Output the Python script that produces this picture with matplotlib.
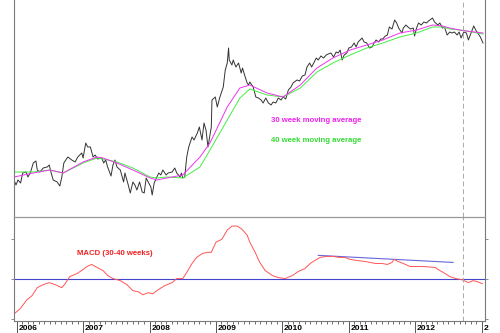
import matplotlib
matplotlib.use("Agg")
import matplotlib.pyplot as plt

plt.rcParams["font.family"] = ["Liberation Sans", "DejaVu Sans"]

# weekly close, decimal year vs price level
price_t = [2005.96, 2005.99, 2006.02, 2006.06, 2006.09, 2006.14, 2006.17, 2006.21, 2006.25, 2006.29,
           2006.31, 2006.35, 2006.40, 2006.46, 2006.49, 2006.52, 2006.55, 2006.61, 2006.65, 2006.68,
           2006.71, 2006.77, 2006.83, 2006.88, 2006.92, 2006.98, 2007.00, 2007.04, 2007.07, 2007.11,
           2007.15, 2007.18, 2007.22, 2007.28, 2007.31, 2007.34, 2007.37, 2007.42, 2007.45, 2007.48,
           2007.51, 2007.56, 2007.59, 2007.61, 2007.63, 2007.68, 2007.71, 2007.75, 2007.78, 2007.81,
           2007.85, 2007.89, 2007.92, 2007.95, 2007.98, 2008.02, 2008.04, 2008.07, 2008.11, 2008.14,
           2008.17, 2008.20, 2008.25, 2008.28, 2008.34, 2008.38, 2008.41, 2008.46, 2008.48, 2008.50,
           2008.53, 2008.56, 2008.59, 2008.64, 2008.67, 2008.72, 2008.75, 2008.79, 2008.82, 2008.85,
           2008.88, 2008.93, 2008.94, 2008.99, 2009.02, 2009.06, 2009.11, 2009.14, 2009.17, 2009.19,
           2009.20, 2009.24, 2009.26, 2009.30, 2009.34, 2009.38, 2009.40, 2009.44, 2009.47, 2009.49,
           2009.51, 2009.56, 2009.60, 2009.64, 2009.68, 2009.71, 2009.75, 2009.79, 2009.83, 2009.86,
           2009.90, 2009.94, 2009.98, 2010.01, 2010.05, 2010.09, 2010.13, 2010.16, 2010.22, 2010.26,
           2010.30, 2010.34, 2010.37, 2010.41, 2010.44, 2010.48, 2010.51, 2010.54, 2010.58, 2010.62,
           2010.66, 2010.69, 2010.73, 2010.77, 2010.81, 2010.84, 2010.87, 2010.90, 2010.93, 2010.97,
           2011.00, 2011.04, 2011.08, 2011.11, 2011.14, 2011.20, 2011.23, 2011.27, 2011.31, 2011.35,
           2011.38, 2011.41, 2011.45, 2011.48, 2011.51, 2011.55, 2011.58, 2011.61, 2011.65, 2011.69,
           2011.72, 2011.75, 2011.80, 2011.82, 2011.86, 2011.89, 2011.93, 2011.97, 2011.99, 2012.02,
           2012.05, 2012.09, 2012.13, 2012.17, 2012.20, 2012.26, 2012.29, 2012.34, 2012.37, 2012.41,
           2012.44, 2012.48, 2012.52, 2012.55, 2012.59, 2012.63, 2012.66, 2012.69, 2012.73, 2012.77,
           2012.80, 2012.84, 2012.88, 2012.91, 2012.94, 2012.98, 2013.02]
price = [70, 65, 70, 67, 77, 78, 73, 78, 87, 89,
         80, 78, 82, 83, 85, 77, 70, 68, 64, 73,
         87, 93, 90, 88, 93, 97, 92, 107, 103, 103,
         93, 95, 91, 92, 87, 90, 83, 74, 85, 90,
         83, 80, 73, 68, 77, 65, 57, 68, 65, 60,
         68, 58, 57, 72, 68, 63, 55, 67, 73, 77,
         75, 80, 75, 77, 78, 82, 77, 73, 77, 72,
         73, 93, 103, 113, 110, 117, 123, 110, 127, 120,
         103, 123, 150, 153, 143, 153, 163, 180, 187, 202,
         190, 185, 190, 183, 187, 177, 182, 173, 167, 165,
         168, 163, 153, 152, 150, 147, 152, 147, 145, 148,
         147, 152, 150, 153, 151, 160, 163, 167, 170, 169,
         174, 175, 183, 187, 183, 188, 192, 190, 194, 192,
         195, 196, 197, 193, 198, 197, 200, 190, 195, 197,
         202, 203, 207, 203, 208, 212, 208, 207, 202, 203,
         207, 210, 208, 211, 211, 214, 215, 223, 221, 230,
         227, 222, 217, 222, 225, 223, 221, 222, 214, 222,
         227, 225, 228, 227, 229, 232, 228, 225, 227, 222,
         223, 215, 218, 217, 218, 215, 218, 212, 218, 217,
         210, 217, 224, 220, 217, 213, 207]

ma_t = [2005.96, 2006.25, 2006.50, 2006.70, 2007.00, 2007.21, 2007.30, 2007.51, 2007.75, 2008.01,
        2008.11, 2008.26, 2008.50, 2008.76, 2008.91, 2009.17, 2009.36, 2009.51, 2009.77, 2010.01,
        2010.27, 2010.52, 2010.76, 2011.02, 2011.27, 2011.51, 2011.77, 2012.02, 2012.26, 2012.41,
        2012.52, 2012.67, 2012.77, 2013.02]
ma30 = [73, 77, 80, 77, 88, 93, 92, 87, 80, 72,
        70, 72, 75, 93, 107, 143, 162, 165, 157, 153,
        165, 182, 192, 200, 205, 210, 217, 220, 225, 224,
        222, 220, 219, 217]
ma40 = [78, 78, 80, 77, 87, 92, 91, 88, 82, 73,
        72, 73, 72, 83, 100, 130, 152, 161, 155, 153,
        162, 178, 187, 195, 202, 207, 213, 217, 223, 223,
        221, 220, 219, 216]

macd_t = [2005.96, 2006.05, 2006.155, 2006.23, 2006.31, 2006.40, 2006.49, 2006.58, 2006.68, 2006.73,
          2006.80, 2006.91, 2007.00, 2007.06, 2007.13, 2007.21, 2007.30, 2007.37, 2007.45, 2007.56,
          2007.66, 2007.75, 2007.83, 2007.90, 2007.98, 2008.05, 2008.13, 2008.23, 2008.34, 2008.41,
          2008.50, 2008.56, 2008.64, 2008.71, 2008.80, 2008.88, 2008.93, 2009.00, 2009.09, 2009.17,
          2009.24, 2009.32, 2009.39, 2009.47, 2009.51, 2009.59, 2009.66, 2009.74, 2009.85, 2009.94,
          2010.04, 2010.15, 2010.24, 2010.34, 2010.42, 2010.49, 2010.57, 2010.67, 2010.76, 2010.85,
          2010.94, 2011.02, 2011.12, 2011.24, 2011.32, 2011.40, 2011.50, 2011.58, 2011.65, 2011.68,
          2011.74, 2011.82, 2011.92, 2012.02, 2012.12, 2012.30, 2012.37, 2012.45, 2012.52, 2012.61,
          2012.70, 2012.80, 2012.87, 2012.93, 2013.01]
macd = [-34.7, -29.7, -20.7, -16.7, -8.7, -5.7, -3.7, -5.7, -8.7, -4.7,
        2.3, 5.3, 9.3, 12.3, 14.3, 11.3, 8.3, 3.3, 0.3, -1.7,
        -5.7, -11.7, -12.7, -15.7, -13.7, -14.7, -10.7, -6.7, -3.7, 0.3,
        0.3, 6.3, 15.3, 21.3, 25.3, 26.3, 26.3, 36.3, 39.3, 48.3,
        52.3, 52.3, 49.3, 43.3, 36.3, 26.3, 16.3, 8.3, 3.3, 1.3,
        0.3, 3.3, 7.3, 10.3, 15.3, 18.3, 21.3, 22.3, 22.3, 21.3,
        21.3, 19.3, 18.3, 17.3, 16.3, 15.3, 15.3, 14.3, 16.3, 19.3,
        17.3, 15.3, 12.3, 12.3, 12.3, 11.3, 8.3, 5.3, 2.3, 0.3,
        -0.7, -3.7, -1.7, -2.7, -4.7]

# trend line drawn across the MACD highs
trend_t = [2010.54, 2012.57]
trend_v = [23.3, 16.3]

years = [2006, 2007, 2008, 2009, 2010, 2011, 2012, 2013]
# the 2013 label only has room for its first digit before the edge
year_labels = ["2006", "2007", "2008", "2009", "2010", "2011", "2012", "2"]
marker_t = 2012.715

XMIN, XMAX = 2005.96, 2013.05
SPINE = "#7a7a7a"

fig = plt.figure(figsize=(5.0, 3.33), dpi=100)
ax1 = fig.add_axes([0.028, 1 - 217 / 333, 0.942, 217 / 333])
ax2 = fig.add_axes([0.028, 1 - 321 / 333, 0.942, 104 / 333])

# price panel
ax1.plot(price_t, price, color="#333333", lw=0.7)
ax1.plot(ma_t, ma40, color="#44ee44", lw=0.7)
ax1.plot(ma_t, ma30, color="#ee33ee", lw=0.7)
ax1.axvline(marker_t, color="#aaaaaa", lw=0.7, dashes=(5, 3))
ax1.set_xlim(XMIN, XMAX)
ax1.set_ylim(33, 250)
ax1.text(2009.83, 129, "30 week moving average", color="#ee22ee", fontsize=5.6,
         fontweight="bold", va="center", ha="left")
ax1.text(2009.83, 109, "40 week moving average", color="#33dd33", fontsize=5.6,
         fontweight="bold", va="center", ha="left")
ax1.set_xticks([])
ax1.set_yticks([])
ax1.spines["top"].set_visible(False)
ax1.spines["bottom"].set_visible(False)
for s in ("left", "right"):
    ax1.spines[s].set_color(SPINE)
    ax1.spines[s].set_linewidth(0.8)

# MACD panel
ax2.axhline(0, color="#4444cc", lw=0.8)
ax2.plot(trend_t, trend_v, color="#6666dd", lw=0.8)
ax2.plot(macd_t, macd, color="#ff5555", lw=0.7)
ax2.axvline(marker_t, color="#aaaaaa", lw=0.7, dashes=(5, 3))
ax2.set_xlim(XMIN, XMAX)
ax2.set_ylim(-41.7, 61.3)
ax2.text(2006.91, 25.3, "MACD (30-40 weeks)", color="#ee2222", fontsize=5.6,
         fontweight="bold", va="center", ha="left")
ax2.spines["top"].set_color("#999999")
ax2.spines["top"].set_linewidth(0.9)
for s in ("left", "right", "bottom"):
    ax2.spines[s].set_color(SPINE)
    ax2.spines[s].set_linewidth(0.8)
ax2.set_yticks([-40, 0, 40])
ax2.tick_params(axis="y", left=True, right=True, labelleft=False, length=2,
                color=SPINE, width=0.6)

months = [y + m / 12 for y in range(2005, 2014) for m in range(1, 12)]
ax2.set_xticks(years)
ax2.set_xticklabels([])
ax2.set_xticks([m for m in months if XMIN < m < XMAX], minor=True)
ax2.tick_params(axis="x", which="major", length=9, width=0.7, color="#555555")
ax2.tick_params(axis="x", which="minor", length=2.5, width=0.6, color="#555555")

# year labels sit just right of their tick
for yr, lab in zip(years, year_labels):
    ax2.annotate(lab, xy=(yr, 0), xycoords=("data", "axes fraction"),
                 xytext=(1.2, -2.8), textcoords="offset points",
                 ha="left", va="top", fontsize=6, fontweight="bold",
                 annotation_clip=False)

fig.savefig("out.png", dpi=100, facecolor="white")
